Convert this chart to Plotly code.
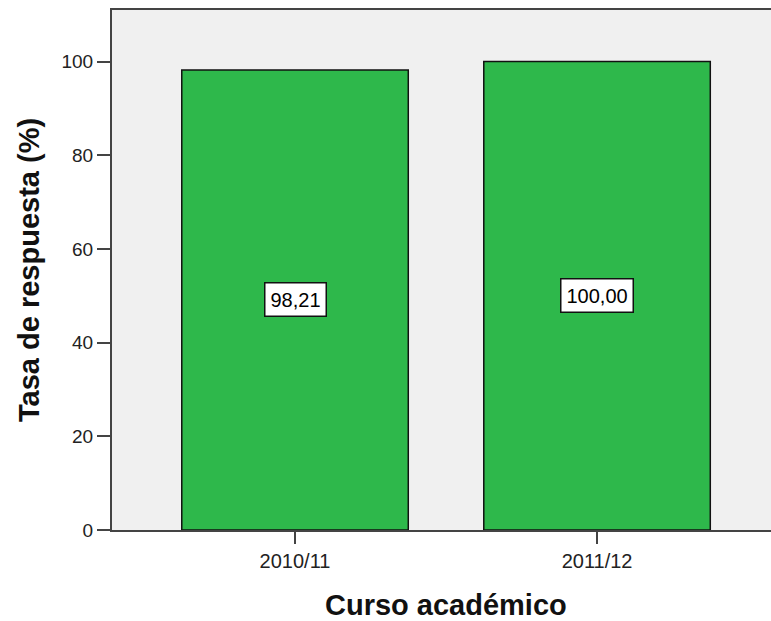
import plotly.graph_objects as go

categories = ["2010/11", "2011/12"]
values = [98.21, 100.00]
labels = ["98,21", "100,00"]
y_ticks = [0, 20, 40, 60, 80, 100]
x_title = "Curso académico"
y_title = "Tasa de respuesta (%)"

FONT = "Liberation Sans, Arial, sans-serif"

fig = go.Figure()
fig.add_trace(go.Bar(
    x=categories, y=values, width=0.75,
    marker=dict(color="#2eb84b", line=dict(color="#111111", width=1.5)),
    hoverinfo="skip",
))

for c, v, t in zip(categories, values, labels):
    fig.add_annotation(
        x=c, y=v / 2, text=t, showarrow=False,
        font=dict(family=FONT, size=20, color="#000"),
        bgcolor="white", bordercolor="#111", borderwidth=1.5, borderpad=5,
    )

fig.add_annotation(
    xref="paper", yref="paper", x=0.507, y=-0.144,
    xanchor="center", yanchor="middle", showarrow=False,
    text="<b>" + x_title + "</b>",
    font=dict(family=FONT, size=29, color="#111"),
)
fig.add_annotation(
    xref="paper", yref="paper", x=-0.126, y=0.5,
    xanchor="center", yanchor="middle", showarrow=False, textangle=-90,
    text="<b>" + y_title + "</b>",
    font=dict(family=FONT, size=29, color="#111"),
)

fig.update_layout(
    width=771, height=621,
    margin=dict(l=112, r=0, t=10, b=91),
    paper_bgcolor="white", plot_bgcolor="#f0f0f0",
    showlegend=False,
    font=dict(family=FONT, color="#222"),
)
fig.update_xaxes(
    type="category", range=[-0.606, 1.576],
    showline=True, linecolor="#444", linewidth=2, mirror=True,
    ticks="outside", ticklen=12, tickwidth=2, tickcolor="#444",
    tickfont=dict(family=FONT, size=20, color="#222"),
    showgrid=False, zeroline=False,
)
fig.update_yaxes(
    range=[0, 111], tickvals=y_ticks,
    showline=True, linecolor="#444", linewidth=2,
    ticks="outside", ticklen=13, tickwidth=2, tickcolor="#444",
    tickfont=dict(family=FONT, size=19, color="#222"),
    showgrid=False, zeroline=False,
)

fig.write_html(
    "out.html",
    config={"displayModeBar": False},
    post_script="document.body.style.margin='0';document.body.style.overflow='hidden';",
)
